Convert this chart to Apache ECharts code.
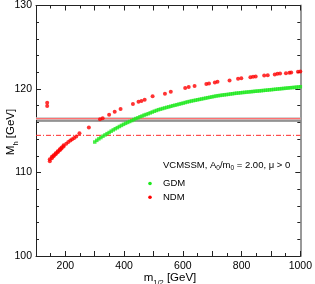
<!DOCTYPE html>
<html><head><meta charset="utf-8">
<script src="https://cdn.jsdelivr.net/npm/echarts@6/dist/echarts.min.js"></script>
<style>html,body{margin:0;padding:0;background:#fff}#c{width:315px;height:284px}</style>
</head><body><div id="c"></div>
<script>
// ---- data ----
const gdmM12 = [300,307,314,321,328,335,342,349,356,363,370,377,384,391,398,405,412,419,426,433,440,447,454,461,468,475,482,489,496,503,510,517,524,531,538,545,552,559,566,573,580,587,594,601,608,615,622,629,636,643,650,657,664,671,678,685,692,699,706,713,720,727,734,741,748,755,762,769,776,783,790,797,804,811,818,825,832,839,846,853,860,867,874,881,888,895,902,909,916,923,930,937,944,951,958,965,972,979,986,993,1000];
const gdmMh = [113.65,113.85,114.03,114.18,114.35,114.5,114.65,114.79,114.95,115.1,115.24,115.37,115.51,115.64,115.77,115.89,116.0,116.11,116.22,116.34,116.46,116.55,116.67,116.76,116.87,116.95,117.04,117.14,117.24,117.34,117.43,117.52,117.59,117.66,117.73,117.8,117.86,117.93,118.0,118.06,118.12,118.19,118.25,118.31,118.38,118.45,118.5,118.56,118.61,118.66,118.71,118.76,118.81,118.86,118.91,118.96,119.01,119.06,119.11,119.16,119.2,119.23,119.27,119.3,119.33,119.36,119.4,119.43,119.47,119.5,119.52,119.55,119.58,119.6,119.63,119.65,119.68,119.7,119.73,119.75,119.77,119.8,119.82,119.85,119.87,119.9,119.92,119.95,119.97,120.0,120.02,120.05,120.07,120.1,120.12,120.15,120.17,120.19,120.22,120.24,120.27];
const ndmM12 = [138,138,147,147,154,154,160,160,167,167,174,174,181,181,187,187,194,194,203,210,217,223,230,237,248,280,318,327,349,368,388,430,449,459,470,497,539,559,608,620,640,680,689,709,718,759,788,799,830,839,848,877,889,913,922,931,951,963,969,992,1000];
const ndmMh = [118.35,117.95,111.35,111.6,111.72,111.88,111.95,112.08,112.18,112.3,112.42,112.55,112.65,112.78,112.88,113.0,113.12,113.25,113.44,113.64,113.82,113.98,114.13,114.3,114.7,115.4,116.37,116.5,116.93,117.27,117.6,118.2,118.46,118.55,118.7,119.12,119.44,119.68,120.11,120.23,120.35,120.59,120.67,120.79,120.87,121.03,121.23,121.3,121.42,121.47,121.5,121.62,121.66,121.74,121.82,121.86,121.9,121.94,121.98,122.06,122.1];
const xTickLabels = [200,400,600,800,1000];
const yTickLabels = [100,110,120,130];
const xMin = 100, xMax = 1000, yMin = 100, yMax = 130;
const bandLow = 116.3, bandHigh = 116.62;   // grey band
const redLineMh = 116.45;                    // red line in band
const blackLineMh = 116.17;                  // black line
const lepLimitMh = 114.45;                   // dash-dot line
const seriesNames = ['GDM','NDM'];
const infoText = ['VCMSSM, A','0','/m','0',' = 2.00, \u03bc > 0'];

// ---- chart ----
const FONT = "'Liberation Sans',Arial,sans-serif";
const zip = (a,b) => a.map((v,i)=>[v,b[i]]);
const chart = echarts.init(document.getElementById('c'), null, {renderer:'canvas'});
const axisCol = '#222';
const baseX = {
  type:'value', min:xMin, max:xMax, interval:100,
  axisLine:{show:true, onZero:false, lineStyle:{color:axisCol,width:1}},
  axisTick:{show:true, inside:true, length:5, lineStyle:{color:axisCol}},
  minorTick:{show:true, splitNumber:2, length:3, lineStyle:{color:axisCol}},
  splitLine:{show:false}
};
const baseY = {
  type:'value', min:yMin, max:yMax, interval:10,
  axisLine:{show:true, onZero:false, lineStyle:{color:axisCol,width:1}},
  axisTick:{show:true, inside:true, length:5, lineStyle:{color:axisCol}},
  minorTick:{show:true, splitNumber:5, length:3, lineStyle:{color:axisCol}},
  splitLine:{show:false}
};
function refLine(y, color, width, type, z){
  return {type:'line', data:[[xMin,y],[xMax,y]], silent:true, z:z, showSymbol:false, symbol:'none',
    lineStyle:{color:color, width:width, type:type}, itemStyle:{color:color}};
}
chart.setOption({
  animation:false,
  backgroundColor:'#fff',
  grid:{left:36, right:11, top:5, bottom:28},
  xAxis:[
    Object.assign({}, baseX, {position:'bottom',
      axisLabel:{show:true, margin:5, fontFamily:FONT, fontSize:10.5, color:'#000',
        formatter:v => xTickLabels.includes(v) ? String(v) : ''}}),
    Object.assign({}, baseX, {position:'top', axisLabel:{show:false}})
  ],
  yAxis:[
    Object.assign({}, baseY, {position:'left',
      axisLabel:{show:true, margin:4, fontFamily:FONT, fontSize:10.5, color:'#000',
        formatter:v => yTickLabels.includes(v) ? String(v) : ''}}),
    Object.assign({}, baseY, {position:'right', axisLine:{show:true,onZero:false,lineStyle:{color:'#999',width:2}}, axisLabel:{show:false}})
  ],
  series:[
    refLine(redLineMh, '#ff7070', 1.2, 'solid', 2),
    refLine(blackLineMh, '#333333', 1, 'solid', 2),
    refLine(lepLimitMh, '#ff2a2a', 1, [5,2,1,2], 2),
    {
      name:seriesNames[0], type:'scatter', symbol:'rect', symbolSize:3.5,
      itemStyle:{color:'#1ee81e'}, z:5,
      data:zip(gdmM12,gdmMh),
      markArea:{silent:true, itemStyle:{color:'#c4c4c4'}, data:[[{yAxis:bandLow},{yAxis:bandHigh}]]}
    },
    {
      name:seriesNames[1], type:'scatter', symbol:'circle', symbolSize:4,
      itemStyle:{color:'#ff0000'}, z:6,
      data:zip(ndmM12,ndmMh)
    }
  ],
  graphic:[
    {type:'text', left:163, top:160, style:{
      text:'{n|'+infoText[0]+'}{s|'+infoText[1]+'}{n|'+infoText[2]+'}{s|'+infoText[3]+'}{n|'+infoText[4]+'}',
      rich:{n:{fontFamily:FONT,fontSize:9.5,fill:'#000',lineHeight:12,verticalAlign:'bottom'},
            s:{fontFamily:FONT,fontSize:6.5,fill:'#000',lineHeight:12,verticalAlign:'bottom',padding:[0,0,-2,0]}}}},
    {type:'circle', shape:{cx:150, cy:183.5, r:1.8}, style:{fill:'#1ee81e'}},
    {type:'text', x:163, y:183.5, style:{text:seriesNames[0], fontFamily:FONT, fontSize:9.5, fill:'#000', verticalAlign:'middle'}},
    {type:'circle', shape:{cx:150, cy:197.3, r:1.8}, style:{fill:'#ff0000'}},
    {type:'text', x:163, y:197.3, style:{text:seriesNames[1], fontFamily:FONT, fontSize:9.5, fill:'#000', verticalAlign:'middle'}},
    {type:'text', x:170, y:277, style:{
      text:'{n|m}{s|1/2}{n| [GeV]}', align:'center', verticalAlign:'middle',
      rich:{n:{fontFamily:FONT,fontSize:11.5,fill:'#000',lineHeight:14,verticalAlign:'bottom'},
            s:{fontFamily:FONT,fontSize:7.5,fill:'#000',lineHeight:14,verticalAlign:'bottom',padding:[0,0,-3,0]}}}},
    {type:'text', x:10, y:132, rotation:Math.PI/2, style:{
      text:'{n|M}{s|h}{n| [GeV]}', align:'center', verticalAlign:'middle',
      rich:{n:{fontFamily:FONT,fontSize:11.5,fill:'#000',lineHeight:14,verticalAlign:'bottom'},
            s:{fontFamily:FONT,fontSize:7.5,fill:'#000',lineHeight:14,verticalAlign:'bottom',padding:[0,0,-3,0]}}}}
  ]
});
</script></body></html>
